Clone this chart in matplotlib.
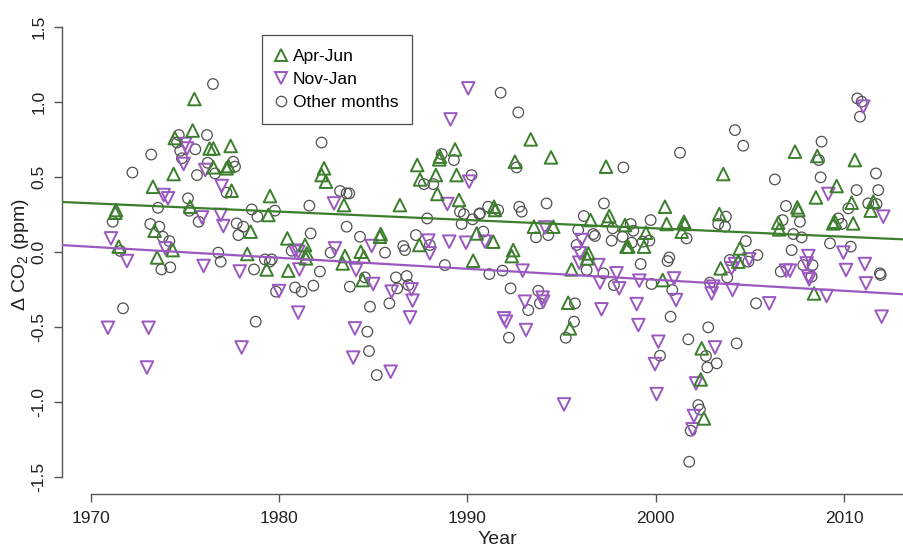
import matplotlib
matplotlib.use("Agg")
import matplotlib.pyplot as plt
from matplotlib.lines import Line2D

plt.rcParams['font.family'] = ['Liberation Sans', 'DejaVu Sans']
plt.rcParams['mathtext.fontset'] = 'custom'
plt.rcParams['mathtext.rm'] = 'Liberation Sans'
plt.rcParams['mathtext.it'] = 'Liberation Sans:italic'

# Apr-Jun anomalies
apr_jun_years = [1975.49, 1975.40, 1974.45, 1976.30, 1976.50, 1974.39, 1973.29, 1971.33, 1971.29, 1975.27,
                 1973.38, 1971.47, 1974.34, 1973.51, 1977.42, 1976.50, 1977.30, 1977.20, 1982.38, 1982.25,
                 1982.48, 1977.47, 1979.51, 1983.44, 1979.42, 1978.48, 1980.43, 1981.37, 1981.46, 1981.42,
                 1983.49, 1983.37, 1978.30, 1979.33, 1980.48, 1989.34, 1988.54, 1988.50, 1987.33, 1988.32,
                 1989.42, 1987.48, 1988.40, 1989.55, 1986.41, 1985.39, 1985.35, 1987.44, 1990.49, 1984.33,
                 1984.50, 1990.30, 1984.43, 1993.36, 1992.52, 1994.44, 1997.36, 1991.41, 1991.46, 1993.53,
                 1994.56, 1996.54, 1997.53, 1997.43, 1998.37, 1991.37, 1992.43, 1992.35, 1996.42, 1996.36,
                 1995.53, 1998.45, 1995.35, 1995.44, 2003.59, 2000.49, 2003.38, 2000.58, 2001.50, 2001.55,
                 2001.38, 1999.48, 1998.54, 1999.38, 2004.47, 2003.45, 2004.39, 2000.37, 2002.44, 2002.39,
                 2002.56, 2007.40, 2008.58, 2010.58, 2009.61, 2008.51, 2010.41, 2011.56, 2011.42, 2007.52,
                 2007.58, 2006.51, 2006.56, 2009.43, 2009.52, 2010.49, 2008.41]
apr_jun_vals = [1.020, 0.810, 0.760, 0.690, 0.690, 0.520, 0.435, 0.280, 0.262, 0.302,
                0.142, 0.036, 0.013, -0.036, 0.707, 0.565, 0.573, 0.558, 0.558, 0.513,
                0.469, 0.409, 0.373, 0.313, 0.247, 0.136, 0.091, 0.047, -0.009, -0.042,
                -0.027, -0.076, -0.013, -0.116, -0.124, 0.684, 0.636, 0.618, 0.580, 0.513,
                0.513, 0.484, 0.387, 0.347, 0.313, 0.120, 0.102, 0.047, 0.124, 0.002,
                -0.031, -0.058, -0.187, 0.751, 0.602, 0.631, 0.569, 0.302, 0.280, 0.169,
                0.169, 0.213, 0.240, 0.213, 0.180, 0.069, 0.013, -0.027, -0.009, -0.042,
                -0.116, 0.036, -0.338, -0.509, 0.520, 0.302, 0.253, 0.187, 0.202, 0.187,
                0.136, 0.129, 0.036, 0.036, 0.024, -0.109, -0.064, -0.187, -0.642, -0.849,
                -1.109, 0.669, 0.640, 0.613, 0.440, 0.364, 0.329, 0.336, 0.276, 0.298,
                0.280, 0.196, 0.151, 0.191, 0.202, 0.191, -0.276]

# Nov-Jan anomalies
nov_jan_years = [1975.00, 1975.10, 1974.92, 1976.07, 1973.86, 1974.09, 1975.90, 1971.06, 1973.95, 1971.91,
                 1975.98, 1970.90, 1973.06, 1972.97, 1976.94, 1982.91, 1976.89, 1977.03, 1980.84, 1981.01,
                 1982.96, 1977.90, 1981.07, 1979.99, 1981.01, 1978.00, 1990.04, 1989.10, 1990.09, 1988.93,
                 1984.91, 1987.92, 1988.00, 1989.03, 1989.92, 1990.93, 1984.08, 1984.99, 1985.97, 1987.03,
                 1987.08, 1986.95, 1984.02, 1983.93, 1985.92, 1994.12, 1996.06, 1995.97, 1995.94, 1996.95,
                 1997.92, 1992.93, 1997.04, 1998.06, 1993.05, 1993.99, 1994.02, 1997.12, 1991.94, 1992.05,
                 1993.11, 1995.13, 2004.03, 2004.21, 2004.97, 1999.13, 2000.97, 2001.08, 2003.06, 2002.97,
                 2004.08, 2006.03, 1998.99, 1999.08, 2000.14, 2003.15, 1999.96, 2002.14, 2000.05, 2002.03,
                 2001.96, 2011.03, 2009.17, 2012.09, 2009.97, 2008.11, 2008.02, 2011.11, 2006.92, 2007.13,
                 2010.11, 2008.11, 2008.16, 2011.17, 2009.08, 2012.00]
nov_jan_vals = [0.720, 0.690, 0.587, 0.547, 0.380, 0.358, 0.231, 0.091, 0.024, -0.060,
                -0.093, -0.505, -0.505, -0.770, 0.440, 0.324, 0.247, 0.173, 0.009, 0.002,
                0.024, -0.130, -0.116, -0.260, -0.404, -0.636, 1.091, 0.884, 0.469, 0.320,
                0.040, 0.076, -0.009, 0.069, 0.062, 0.069, -0.120, -0.213, -0.264, -0.249,
                -0.324, -0.436, -0.509, -0.704, -0.798, 0.164, 0.080, -0.009, -0.071, -0.087,
                -0.142, -0.124, -0.204, -0.242, -0.331, -0.304, -0.331, -0.382, -0.442, -0.464,
                -0.520, -1.016, -0.109, -0.080, -0.049, -0.191, -0.176, -0.320, -0.231, -0.276,
                -0.253, -0.342, -0.347, -0.487, -0.598, -0.636, -0.747, -0.876, -0.947, -1.093,
                -1.182, 0.969, 0.387, 0.236, -0.004, -0.027, -0.076, -0.080, -0.124, -0.124,
                -0.120, -0.164, -0.182, -0.209, -0.293, -0.431]

# all remaining months
other_years = [1976.48, 1974.66, 1976.16, 1974.74, 1975.54, 1974.57, 1973.20, 1974.83, 1976.20, 1972.20,
               1975.63, 1975.15, 1973.56, 1975.22, 1975.72, 1971.15, 1973.15, 1973.63, 1973.81, 1974.16,
               1971.56, 1973.74, 1974.21, 1971.70, 1982.25, 1977.56, 1977.65, 1976.59, 1977.20, 1983.23,
               1983.58, 1981.60, 1978.54, 1978.84, 1979.77, 1977.74, 1978.09, 1977.83, 1981.67, 1983.58,
               1980.66, 1982.73, 1976.76, 1976.89, 1979.24, 1979.60, 1979.50, 1978.66, 1982.16, 1979.83,
               1980.84, 1981.19, 1981.81, 1983.75, 1978.75, 1988.63, 1989.28, 1987.69, 1988.18, 1990.22,
               1989.60, 1989.81, 1989.69, 1990.27, 1990.63, 1990.84, 1991.10, 1987.86, 1983.72, 1984.29,
               1985.62, 1986.59, 1986.68, 1987.26, 1988.00, 1988.80, 1984.55, 1986.20, 1986.77, 1986.27,
               1986.86, 1985.85, 1984.82, 1984.68, 1984.77, 1985.18, 1991.16, 1991.76, 1992.70, 1992.61,
               1998.28, 1990.66, 1991.63, 1992.75, 1992.88, 1994.20, 1996.18, 1997.25, 1993.64, 1994.29,
               1997.71, 1998.24, 1997.66, 1996.68, 1996.77, 1995.88, 1995.80, 1996.33, 1991.86, 1997.22,
               1997.78, 1992.29, 1993.76, 1993.85, 1993.23, 1995.71, 1992.20, 1995.66, 1995.22, 2004.21,
               2004.65, 2001.29, 2003.73, 1999.73, 2003.32, 2003.68, 2001.64, 1998.67, 1998.81, 1998.72,
               1999.31, 1999.66, 1999.20, 2000.72, 2000.63, 2004.79, 2003.94, 2004.92, 2003.80, 1999.78,
               2000.88, 2002.88, 2005.33, 2000.79, 2001.73, 2002.79, 2004.30, 2002.67, 2000.23, 2002.74,
               2003.24, 2002.26, 2002.35, 2001.86, 2001.78, 2010.71, 2010.94, 2010.85, 2008.81, 2008.67,
               2006.33, 2008.76, 2011.70, 2010.67, 2011.82, 2010.23, 2011.29, 2011.73, 2006.92, 2007.66,
               2006.74, 2009.70, 2009.88, 2007.31, 2007.75, 2009.26, 2010.36, 2007.22, 2008.33, 2006.64,
               2011.91, 2005.40, 2007.84, 2008.28, 2011.95]
other_vals = [1.120, 0.780, 0.780, 0.675, 0.685, 0.730, 0.650, 0.625, 0.595, 0.530,
              0.513, 0.358, 0.295, 0.275, 0.202, 0.202, 0.187, 0.169, 0.102, 0.073,
              0.007, -0.116, -0.102, -0.375, 0.730, 0.602, 0.569, 0.524, 0.396, 0.407,
              0.391, 0.309, 0.284, 0.236, 0.276, 0.191, 0.169, 0.113, 0.124, 0.169,
              0.009, -0.004, -0.004, -0.064, -0.049, -0.049, -0.064, -0.116, -0.130, -0.264,
              -0.236, -0.264, -0.224, -0.231, -0.464, 0.653, 0.613, 0.453, 0.453, 0.513,
              0.269, 0.253, 0.187, 0.218, 0.253, 0.136, 0.302, 0.224, 0.391, 0.102,
              -0.004, 0.040, 0.013, 0.113, 0.047, -0.087, -0.169, -0.169, -0.160, -0.242,
              -0.220, -0.342, -0.364, -0.531, -0.660, -0.820, -0.147, 1.062, 0.931, 0.564,
              0.564, 0.258, 0.280, 0.302, 0.269, 0.324, 0.240, 0.324, 0.098, 0.113,
              0.158, 0.102, 0.076, 0.120, 0.107, 0.147, 0.047, -0.120, -0.124, -0.142,
              -0.220, -0.242, -0.258, -0.342, -0.387, -0.342, -0.571, -0.464, -0.571, 0.813,
              0.709, 0.662, 0.236, 0.213, 0.187, 0.169, 0.091, 0.187, 0.142, 0.062,
              0.069, 0.076, -0.080, -0.036, -0.060, 0.073, -0.053, -0.064, -0.169, -0.213,
              -0.253, -0.204, -0.342, -0.431, -0.582, -0.502, -0.609, -0.693, -0.691, -0.769,
              -0.742, -1.020, -1.050, -1.191, -1.398, 1.024, 1.002, 0.902, 0.736, 0.613,
              0.484, 0.498, 0.524, 0.413, 0.413, 0.291, 0.324, 0.320, 0.307, 0.202,
              0.213, 0.224, 0.187, 0.120, 0.098, 0.058, 0.036, 0.013, -0.087, -0.130,
              -0.142, -0.020, -0.087, -0.164, -0.153]

# linear trends, given by their values at two years
trend_years = [1970, 2012]
apr_jun_fit = [0.325, 0.091]
nov_jan_fit = [0.035, -0.273]

green = '#3b7f2c'
purple = '#9a58c0'
grey = '#505050'

fig = plt.figure(figsize=(9.04, 5.5), dpi=100)
ax = fig.add_axes([0.0686, 0.1018, 0.9314, 0.8818])

ax.scatter(other_years, other_vals, s=58, marker='o', facecolors='none',
           edgecolors=grey, linewidths=0.9, zorder=2)
ax.scatter(nov_jan_years, nov_jan_vals, s=82, marker='v', facecolors='none',
           edgecolors=purple, linewidths=1.4, zorder=2)
ax.scatter(apr_jun_years, apr_jun_vals, s=82, marker='^', facecolors='none',
           edgecolors=green, linewidths=1.4, zorder=2)

ax.axline((trend_years[0], apr_jun_fit[0]), (trend_years[1], apr_jun_fit[1]),
          color=green, lw=1.6, zorder=3)
ax.axline((trend_years[0], nov_jan_fit[0]), (trend_years[1], nov_jan_fit[1]),
          color=purple, lw=1.6, zorder=3)

ax.set_xlim(1968.46, 2013.19)
ax.set_ylim(-1.613, 1.62)

for side in ['top', 'right']:
    ax.spines[side].set_visible(False)
ax.spines['left'].set_bounds(-1.5, 1.5)
ax.spines['bottom'].set_bounds(1970, 2020)
for side in ['left', 'bottom']:
    ax.spines[side].set_color('#555555')
    ax.spines[side].set_linewidth(1.0)

ax.set_xticks([1970, 1980, 1990, 2000, 2010])
ax.set_yticks([-1.5, -1.0, -0.5, 0.0, 0.5, 1.0, 1.5])
ax.set_yticklabels(['%.1f' % v for v in ax.get_yticks()])
ax.tick_params(axis='both', length=6, width=1.0, color='#555555',
               labelsize=12.5, labelcolor='#222222')
ax.tick_params(axis='x', pad=6)
ax.tick_params(axis='y', pad=5)
for lab in ax.get_yticklabels():
    lab.set_rotation(90)
    lab.set_va('center')

ax.set_xlabel('Year', fontsize=14, color='#222222')
ax.xaxis.set_label_coords(0.517, -0.077)
ax.set_ylabel(r'Δ CO$_2$ (ppm)', fontsize=14, color='#222222')
ax.yaxis.set_label_coords(-0.037, 0.493)

handles = [
    Line2D([], [], ls='none', marker='^', ms=9, mfc='none', mec=green, mew=1.4),
    Line2D([], [], ls='none', marker='v', ms=9, mfc='none', mec=purple, mew=1.4),
    Line2D([], [], ls='none', marker='o', ms=7.5, mfc='none', mec=grey, mew=0.9),
]
leg = ax.legend(handles, ['Apr-Jun', 'Nov-Jan', 'Other months'],
                loc='upper left', bbox_to_anchor=(262 / 904, 1 - 35 / 550),
                bbox_transform=fig.transFigure, fontsize=12.5, frameon=True,
                fancybox=False, borderaxespad=0, handlelength=0.6,
                handletextpad=0.38, labelspacing=0.45, borderpad=0.8)
leg.get_frame().set_edgecolor('#222222')
leg.get_frame().set_linewidth(0.9)

fig.savefig('out.png', dpi=100)
